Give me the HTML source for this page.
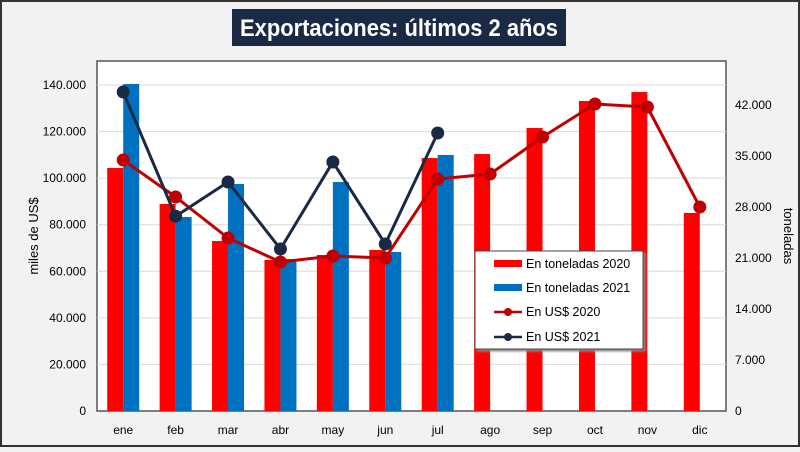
<!DOCTYPE html>
<html><head><meta charset="utf-8"><style>
body{margin:0;width:800px;height:447px;overflow:hidden;background:#f2f2f2;font-family:"Liberation Sans",sans-serif}
</style></head><body>
<svg id="c" width="800" height="447" xmlns="http://www.w3.org/2000/svg">
<rect x="1" y="1" width="798" height="445" fill="#f2f2f2" stroke="#333" stroke-width="2"/>
<rect x="232" y="9" width="334" height="37" fill="#1b2a44"/>
<text x="399" y="36" text-anchor="middle" fill="#fff" font-size="24" font-weight="bold" textLength="318" lengthAdjust="spacingAndGlyphs">Exportaciones: últimos 2 años</text>
<rect x="97" y="61" width="629" height="350" fill="#fff" stroke="#555" stroke-width="1.5"/>
<g id="grid"></g><g id="bars"></g><g id="lines"></g><g id="axes"></g>
<text transform="translate(38,236) rotate(-90)" text-anchor="middle" font-size="13">miles de US$</text>
<text transform="translate(784,236) rotate(90)" text-anchor="middle" font-size="13">toneladas</text>
<g>
<rect x="475" y="251" width="168" height="98" fill="#fff" stroke="#444" style="filter:drop-shadow(2px 2px 1px #888)"/>
<rect x="494" y="260" width="28" height="7" fill="#ff0000"/><text x="526" y="268" font-size="12.5">En toneladas 2020</text>
<rect x="494" y="284" width="28" height="7" fill="#0070c0"/><text x="526" y="292" font-size="12.5">En toneladas 2021</text>
<line x1="494" y1="312" x2="522" y2="312" stroke="#c00000" stroke-width="2.5"/><circle cx="508" cy="312" r="4" fill="#c00000"/><text x="526" y="316" font-size="12.5">En US$ 2020</text>
<line x1="494" y1="337" x2="522" y2="337" stroke="#1b2a44" stroke-width="2.5"/><circle cx="508" cy="337" r="4" fill="#1b2a44"/><text x="526" y="341" font-size="12.5">En US$ 2021</text>
</g>
</svg>
<script>
const months=["ene","feb","mar","abr","may","jun","jul","ago","sep","oct","nov","dic"];
const ton2020=[33350,28420,23330,20730,21410,22100,34720,35270,38840,42550,43780,27180];
const ton2021=[44880,26630,31160,20860,31430,21820,35140];
const usd2020=[107790,91900,74290,63990,66560,65700,99630,101780,117670,131840,130550,87610];
const usd2021=[137000,83650,98340,69570,106930,71720,119390];
const leftTicks=[0,20000,40000,60000,80000,100000,120000,140000];
const rightTicks=[0,7000,14000,21000,28000,35000,42000];
const NS="http://www.w3.org/2000/svg";
const x0=97,x1=726,y0=411;
const band=(x1-x0)/12;
const xc=i=>x0+band*(i+0.5);
const yL=v=>y0-v*326/140000;
const yR=v=>y0-v*306/42000;
const fmt=v=>v===0?"0":v.toLocaleString("de-DE");
function mk(t,a,p){const e=document.createElementNS(NS,t);for(const k in a)e.setAttribute(k,a[k]);document.getElementById(p).appendChild(e);return e;}
leftTicks.forEach(v=>{
 if(v>0){const g=mk("line",{x1:x0,x2:x1,y1:yL(v),y2:yL(v),stroke:"#d9d9d9"},"grid");
 
 }
 const t=mk("text",{x:86,y:yL(v)+4,"text-anchor":"end","font-size":"12"},"axes");t.textContent=fmt(v);
 
 
});
rightTicks.forEach(v=>{
 const t=mk("text",{x:735,y:yR(v)+4,"font-size":"12"},"axes");t.textContent=fmt(v);
 
 
});
months.forEach((m,i)=>{
 const t=mk("text",{x:xc(i),y:434,"text-anchor":"middle","font-size":"12"},"axes");t.textContent=m;
 
 
});
const bw=16;
ton2020.forEach((v,i)=>{
 const r=mk("rect",{x:xc(i)-bw,y:yR(v),width:bw,height:y0-yR(v),fill:"#ff0000"},"bars");
 
 
});
ton2021.forEach((v,i)=>{
 const r=mk("rect",{x:xc(i),y:yR(v),width:bw,height:y0-yR(v),fill:"#0070c0"},"bars");
 
 
});
function line(arr,col,name){
 const p=mk("polyline",{points:arr.map((v,i)=>xc(i)+","+yL(v)).join(" "),fill:"none",stroke:col,"stroke-width":"3"},"lines");
 
 
 arr.forEach((v,i)=>{const c=mk("circle",{cx:xc(i),cy:yL(v),r:6.5,fill:col},"lines");
 
 });
}
line(usd2020,"#c00000","usd-2020");
line(usd2021,"#1b2a44","usd-2021");
</script>
</body></html>
